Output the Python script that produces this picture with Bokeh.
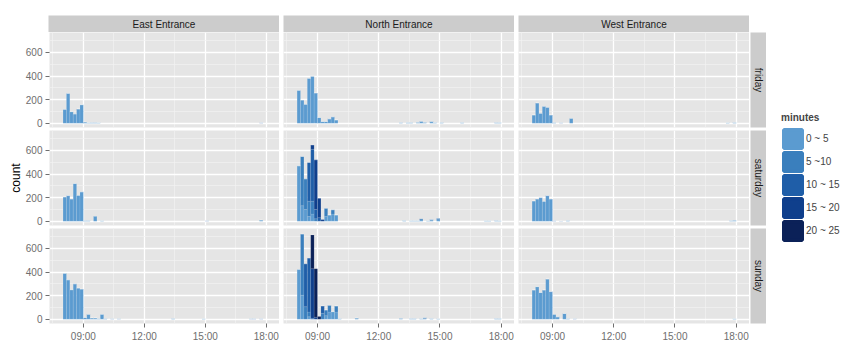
import math
from bokeh.plotting import figure
from bokeh.models import ColumnDataSource, FixedTicker, Label, Legend, LegendItem, Range1d, Spacer
from bokeh.layouts import row, column
from bokeh.embed import file_html
from bokeh.resources import INLINE

# ---------------- data ----------------
entrances = ["East Entrance", "North Entrance", "West Entrance"]
days = ["friday", "saturday", "sunday"]
minute_classes = ["0 ~ 5", "5 ~10", "10 ~ 15", "15 ~ 20", "20 ~ 25"]
class_colors = ["#5B9BD0", "#3A7FBD", "#1F5EA8", "#0F3F8C", "#0B2158"]

x_tick_hours = [9, 12, 15, 18]
x_tick_labels = ["09:00", "12:00", "15:00", "18:00"]
x_minor_hours = [7.5, 10.5, 13.5, 16.5]
y_ticks = [0, 200, 400, 600]
y_minor = [100, 300, 500, 700]

# 10-minute bins (start time) and counts per waiting-time class
east_friday_bins = ["08:00", "08:10", "08:20", "08:30", "08:40", "08:50", "09:00", "09:10", "09:20", "09:30", "09:40", "17:40"]
east_friday_0_5 = [118, 253, 98, 79, 121, 157, 10, 4, 6, 5, 4, 3]

east_saturday_bins = ["08:00", "08:10", "08:20", "08:30", "08:40", "08:50", "09:00", "09:10", "09:30", "09:50", "15:00", "17:40"]
east_saturday_0_5 = [206, 217, 189, 320, 220, 249, 6, 5, 43, 4, 3, 10]

east_sunday_bins = ["08:00", "08:10", "08:20", "08:30", "08:40", "08:50", "09:00", "09:10", "09:20", "09:30",
                    "09:40", "09:50", "10:00", "10:20", "10:40", "13:20", "14:50", "17:10", "17:20", "17:40"]
east_sunday_0_5 = [389, 334, 250, 300, 264, 256, 14, 42, 11, 11, 5, 42, 5, 3, 3, 5, 4, 3, 3, 3]

north_friday_bins = ["08:00", "08:10", "08:20", "08:30", "08:40", "08:50", "09:00", "09:10", "09:20", "09:30", "09:40", "09:50",
                     "13:00", "13:20", "13:30", "13:50", "14:00", "14:10", "14:30", "14:40", "15:00", "16:00", "17:40", "17:50"]
north_friday_0_5 = [279, 197, 161, 381, 398, 257, 48, 14, 14, 37, 54, 28, 5, 6, 5, 8, 12, 8, 10, 6, 5, 6, 5, 6]
north_friday_5_10 = [0, 0, 0, 0, 0, 0, 0, 0, 0, 0, 0, 0, 0, 0, 0, 0, 4, 0, 4, 0, 0, 0, 0, 0]

north_saturday_bins = ["08:00", "08:10", "08:20", "08:30", "08:40", "08:50", "09:00", "09:10", "09:20", "09:30", "09:40", "09:50",
                       "13:10", "13:30", "13:40", "13:50", "14:00", "14:20", "14:30", "14:50", "17:10", "17:20", "17:40", "17:50"]
north_saturday_0_5 = [470, 131, 100, 40, 60, 0, 0, 0, 40, 53, 60, 53, 5, 4, 4, 4, 10, 4, 8, 12, 4, 4, 5, 4]
north_saturday_5_10 = [0, 417, 259, 130, 110, 20, 0, 0, 70, 0, 37, 0, 0, 0, 0, 0, 10, 0, 7, 13, 0, 0, 0, 0]
north_saturday_10_15 = [0, 0, 0, 328, 440, 80, 30, 0, 0, 0, 0, 0, 0, 0, 0, 0, 0, 0, 0, 0, 0, 0, 0, 0]
north_saturday_15_20 = [0, 0, 0, 0, 35, 420, 165, 15, 0, 0, 0, 0, 0, 0, 0, 0, 0, 0, 0, 0, 0, 0, 0, 0]

north_sunday_bins = ["08:00", "08:10", "08:20", "08:30", "08:40", "08:50", "09:00", "09:10", "09:20", "09:30", "09:40", "09:50",
                     "10:00", "10:50", "13:00", "13:30", "13:40", "14:00", "14:10", "14:30", "14:50", "17:40", "17:50"]
north_sunday_0_5 = [423, 204, 0, 20, 0, 0, 0, 0, 30, 60, 64, 60, 6, 10, 8, 5, 5, 6, 6, 5, 4, 5, 5]
north_sunday_5_10 = [0, 518, 106, 40, 0, 0, 0, 50, 48, 58, 0, 52, 0, 0, 0, 0, 0, 0, 6, 0, 0, 0, 0]
north_sunday_10_15 = [0, 0, 364, 458, 8, 0, 0, 62, 0, 0, 0, 0, 0, 0, 0, 0, 0, 0, 0, 0, 0, 0, 0]
north_sunday_15_20 = [0, 0, 0, 0, 420, 17, 0, 0, 0, 0, 0, 0, 0, 0, 0, 0, 0, 0, 0, 0, 0, 0, 0]
north_sunday_20_25 = [0, 0, 0, 0, 286, 411, 22, 0, 0, 0, 0, 0, 0, 0, 0, 0, 0, 0, 0, 0, 0, 0, 0]

west_friday_bins = ["08:00", "08:10", "08:20", "08:30", "08:40", "08:50", "09:00", "09:20", "09:50", "17:30", "17:50"]
west_friday_0_5 = [70, 172, 85, 144, 135, 70, 5, 3, 42, 4, 5]

west_saturday_bins = ["08:00", "08:10", "08:20", "08:30", "08:40", "08:50", "09:00", "09:20", "09:40", "17:40", "17:50"]
west_saturday_0_5 = [172, 189, 200, 169, 217, 189, 3, 2, 6, 6, 8]

west_sunday_bins = ["08:00", "08:10", "08:20", "08:30", "08:40", "08:50", "09:00", "09:10", "09:30", "09:40", "10:00", "17:50"]
west_sunday_0_5 = [248, 276, 226, 248, 341, 234, 42, 20, 48, 6, 3, 4]

panel_data = {
    ("friday", "East Entrance"): (east_friday_bins, {"0 ~ 5": east_friday_0_5}),
    ("saturday", "East Entrance"): (east_saturday_bins, {"0 ~ 5": east_saturday_0_5}),
    ("sunday", "East Entrance"): (east_sunday_bins, {"0 ~ 5": east_sunday_0_5}),
    ("friday", "North Entrance"): (north_friday_bins, {"0 ~ 5": north_friday_0_5, "5 ~10": north_friday_5_10}),
    ("saturday", "North Entrance"): (north_saturday_bins, {"0 ~ 5": north_saturday_0_5, "5 ~10": north_saturday_5_10,
                                                          "10 ~ 15": north_saturday_10_15, "15 ~ 20": north_saturday_15_20}),
    ("sunday", "North Entrance"): (north_sunday_bins, {"0 ~ 5": north_sunday_0_5, "5 ~10": north_sunday_5_10,
                                                      "10 ~ 15": north_sunday_10_15, "15 ~ 20": north_sunday_15_20,
                                                      "20 ~ 25": north_sunday_20_25}),
    ("friday", "West Entrance"): (west_friday_bins, {"0 ~ 5": west_friday_0_5}),
    ("saturday", "West Entrance"): (west_saturday_bins, {"0 ~ 5": west_saturday_0_5}),
    ("sunday", "West Entrance"): (west_sunday_bins, {"0 ~ 5": west_sunday_0_5}),
}

# ---------------- style ----------------
FONT = "Liberation Sans"
PANEL_BG = "#E5E5E5"
STRIP_BG = "#CCCCCC"
AXIS_GREY = "#6E6E6E"
BIN_W = 10 / 60.0
X_RANGE = (7.333, 18.652)
Y_RANGE = (-36.6, 769.0)

LEFT_PAD = 8
FRAME_W, FRAME_H = 231, 95
AXIS_W = 26      # left axis space
COUNT_W = 14     # space for the "count" title
GAP = 4          # horizontal gap between panels
VGAP = 3         # vertical gap between panels
STRIP_H = 17
TOP_PAD = 15
XAXIS_H = 26
RSTRIP_W = 16


def hours(t):
    h, m = t.split(":")
    return int(h) + int(m) / 60.0


def row_borders(ri):
    return 0, (XAXIS_H if ri == len(days) - 1 else VGAP)


def make_panel(day, ent, ri, ci):
    first_col = ci == 0
    last_row = ri == len(days) - 1
    mbl = AXIS_W if first_col else GAP
    mbt, mbb = row_borders(ri)
    p = figure(width=FRAME_W + mbl, height=FRAME_H + mbt + mbb,
               x_range=Range1d(*X_RANGE), y_range=Range1d(*Y_RANGE),
               x_axis_location="below" if last_row else None,
               y_axis_location="left" if first_col else None,
               output_backend="svg", toolbar_location=None,
               min_border=0, min_border_left=mbl, min_border_right=0,
               min_border_top=mbt, min_border_bottom=mbb)
    p.background_fill_color = PANEL_BG
    p.border_fill_color = "white"
    p.outline_line_color = None

    p.xgrid.ticker = FixedTicker(ticks=x_tick_hours, minor_ticks=x_minor_hours)
    p.ygrid.ticker = FixedTicker(ticks=y_ticks, minor_ticks=y_minor)
    for g in (p.xgrid, p.ygrid):
        g.grid_line_color = "white"
        g.grid_line_width = 1.3
        g.minor_grid_line_color = "#F2F2F2"
        g.minor_grid_line_width = 0.7

    bins, counts = panel_data[(day, ent)]
    data = {"x": [hours(b) + BIN_W / 2 for b in bins]}
    for c in minute_classes:
        data[c] = counts.get(c, [0] * len(bins))
    src = ColumnDataSource(data)
    p.vbar_stack(minute_classes, x="x", width=BIN_W, source=src,
                 fill_color=class_colors, line_color="white", line_alpha=0.2, line_width=0.5)

    axes = []
    if last_row:
        p.xaxis.ticker = FixedTicker(ticks=x_tick_hours)
        p.xaxis.major_label_overrides = {h: lab for h, lab in zip(x_tick_hours, x_tick_labels)}
        axes.append(p.xaxis)
    if first_col:
        p.yaxis.ticker = FixedTicker(ticks=y_ticks)
        axes.append(p.yaxis)
    for ax in axes:
        ax.axis_line_color = None
        ax.major_tick_line_color = AXIS_GREY
        ax.major_tick_out = 4
        ax.major_tick_in = 0
        ax.minor_tick_out = 0
        ax.minor_tick_in = 0
        ax.major_label_standoff = 3
        ax.major_label_text_font = FONT
        ax.major_label_text_font_size = "10px"
        ax.major_label_text_color = AXIS_GREY
    return p


def make_strip(text, w, h, mbl, mbt, mbb, angle):
    s = figure(width=w + mbl, height=h + mbt + mbb, x_range=Range1d(0, 1), y_range=Range1d(0, 1),
               x_axis_location=None, y_axis_location=None, output_backend="svg", toolbar_location=None,
               min_border=0, min_border_left=mbl, min_border_right=0, min_border_top=mbt, min_border_bottom=mbb)
    s.xgrid.visible = False
    s.ygrid.visible = False
    s.background_fill_color = STRIP_BG
    s.border_fill_color = "white"
    s.outline_line_color = None
    s.add_layout(Label(x=0.5, y=0.5, text=text, text_align="center", text_baseline="middle", angle=angle,
                       text_font=FONT, text_font_size="10px", text_color="#1A1A1A"))
    return s


# top strips
top_items = []
for ci, ent in enumerate(entrances):
    top_items.append(make_strip(ent, FRAME_W, STRIP_H, AXIS_W if ci == 0 else GAP, TOP_PAD, 0, 0))
top_items.append(Spacer(width=RSTRIP_W + 1, height=STRIP_H + TOP_PAD))
rows = [row(*top_items, spacing=0)]

for ri, day in enumerate(days):
    items = [make_panel(day, ent, ri, ci) for ci, ent in enumerate(entrances)]
    mbt, mbb = row_borders(ri)
    items.append(make_strip(day, RSTRIP_W, FRAME_H, 1, mbt, mbb, -math.pi / 2))
    rows.append(row(*items, spacing=0))

grid = column(*rows, spacing=0)

total_h = STRIP_H + TOP_PAD + 3 * FRAME_H + 2 * VGAP + XAXIS_H
panels_h = 3 * FRAME_H + 2 * VGAP

# "count" axis title
cf = figure(width=COUNT_W, height=panels_h, x_range=Range1d(0, 1), y_range=Range1d(0, 1),
            x_axis_location=None, y_axis_location=None, output_backend="svg", toolbar_location=None, min_border=0)
cf.xgrid.visible = False
cf.ygrid.visible = False
cf.outline_line_color = None
cf.background_fill_color = "white"
cf.border_fill_color = "white"
cf.add_layout(Label(x=0.5, y=0.5, text="count", text_align="center", text_baseline="middle", angle=math.pi / 2,
                    text_font=FONT, text_font_size="12px", text_color="black"))
count_col = column(Spacer(width=COUNT_W, height=STRIP_H + TOP_PAD), cf,
                   Spacer(width=COUNT_W, height=XAXIS_H), spacing=0)

# legend
LEG_W = 858 - (LEFT_PAD + COUNT_W + AXIS_W + 3 * FRAME_W + 2 * GAP + 1 + RSTRIP_W)
lg = figure(width=LEG_W, height=total_h, x_range=Range1d(0, 1), y_range=Range1d(0, 1),
            x_axis_location=None, y_axis_location=None, output_backend="svg", toolbar_location=None, min_border=0)
lg.xgrid.visible = False
lg.ygrid.visible = False
lg.outline_line_color = None
lg.background_fill_color = "white"
lg.border_fill_color = "white"
leg_items = []
for c, col in zip(minute_classes, class_colors):
    # proxy renderer with an undefined (NaN) bar, so only its legend swatch is drawn
    r = lg.vbar(x=[float("nan")], top=[float("nan")], bottom=[float("nan")], width=0.1,
                fill_color=col, line_color=col, line_width=3.6)
    leg_items.append(LegendItem(label=c, renderers=[r]))
legend = Legend(items=leg_items, location=(15, 107), title="minutes",
                title_text_font=FONT, title_text_font_size="10px", title_text_font_style="bold",
                title_standoff=4, label_text_font=FONT, label_text_font_size="10px",
                label_standoff=2, glyph_width=23, glyph_height=23, label_height=23, spacing=0,
                padding=0, margin=0, border_line_color=None, background_fill_alpha=0)
lg.add_layout(legend)

layout = row(Spacer(width=LEFT_PAD, height=total_h), count_col, grid, lg, spacing=0)

open("out.html", "w").write(file_html(layout, INLINE))
